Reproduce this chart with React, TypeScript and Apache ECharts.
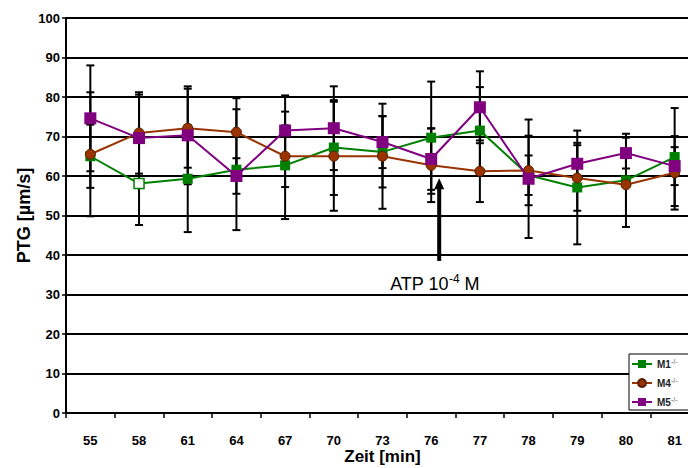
import React, { useEffect, useRef } from "react";
import * as echarts from "echarts";

const categories = ["55", "58", "61", "64", "67", "70", "73", "76", "77", "78", "79", "80", "81"];
const yTicks = [0, 10, 20, 30, 40, 50, 60, 70, 80, 90, 100];

const m1Values = [65.0, 58.1, 59.3, 61.6, 62.7, 67.2, 66.1, 69.7, 71.5, 60.2, 57.1, 58.9, 64.8];
const m1Errors = [8.0, 10.5, 13.5, 15.3, 13.6, 12.0, 9.0, 14.2, 11.0, 5.0, 14.4, 11.8, 12.4];

const m4Values = [65.5, 70.9, 72.1, 71.1, 65.0, 65.0, 65.0, 62.7, 61.2, 61.4, 59.5, 57.8, 60.8];
const m4Errors = [15.7, 10.3, 10.0, 8.6, 7.8, 13.8, 13.3, 9.3, 7.8, 8.8, 8.3, 7.9, 9.3];

const m5Values = [74.6, 69.6, 70.3, 60.0, 71.5, 72.1, 68.6, 64.3, 77.4, 59.3, 63.1, 65.8, 62.5];
const m5Errors = [13.4, 11.0, 12.4, 4.5, 8.9, 10.6, 6.6, 7.8, 9.1, 15.0, 5.3, 3.9, 4.8];

const seriesNames = ["M1", "M4", "M5"];
const annotationText = ["ATP 10", "-4", " M"];
const arrowCategory = "76";
const arrowTopValue = 59.4;
const arrowBottomValue = 38.5;

const GREEN = "#008000";
const BROWN = "#993300";
const PURPLE = "#800080";
const FONT = "'Liberation Sans', Arial, sans-serif";

function errorSeries(values: number[], errors: number[], z: number) {
  return {
    type: "custom",
    z,
    silent: true,
    encode: { x: 0, y: [1, 2] },
    data: values.map((v, i) => [i, v - errors[i], v + errors[i]]),
    renderItem: (params: any, api: any) => {
      const idx = api.value(0);
      const lo = api.coord([idx, api.value(1)]);
      const hi = api.coord([idx, api.value(2)]);
      const half = 4;
      const style = { stroke: "#000", lineWidth: 2 };
      return {
        type: "group",
        children: [
          { type: "line", shape: { x1: hi[0], y1: hi[1], x2: lo[0], y2: lo[1] }, style },
          { type: "line", shape: { x1: hi[0] - half, y1: hi[1], x2: hi[0] + half, y2: hi[1] }, style },
          { type: "line", shape: { x1: lo[0] - half, y1: lo[1], x2: lo[0] + half, y2: lo[1] }, style },
        ],
      };
    },
  };
}

export default function App() {
  const ref = useRef<HTMLDivElement>(null);
  useEffect(() => {
    if (!ref.current) return;
    const chart = echarts.init(ref.current, null, { renderer: "svg" });
    const m1Data = m1Values.map((v, i) =>
      i === 1
        ? { value: v, itemStyle: { color: "#fff", borderColor: GREEN, borderWidth: 1.5 } }
        : v
    );
    chart.setOption({
      animation: false,
      backgroundColor: "#fff",
      textStyle: { fontFamily: FONT },
      grid: {
        left: 66,
        top: 18,
        width: 633,
        height: 395,
        containLabel: false,
        outerBoundsMode: "none",
      },
      xAxis: {
        type: "category",
        data: categories,
        boundaryGap: true,
        name: "Zeit [min]",
        nameLocation: "middle",
        nameGap: 35,
        nameMoveOverlap: false,
        nameTextStyle: { fontSize: 17, fontWeight: "bold", color: "#000", fontFamily: FONT },
        axisLine: { lineStyle: { color: "#000", width: 2 } },
        axisTick: { show: true, inside: false, length: 5, lineStyle: { color: "#000", width: 1.5 } },
        axisLabel: { fontSize: 13, fontWeight: "bold", color: "#000", margin: 21, fontFamily: FONT },
        splitLine: { show: false },
      },
      yAxis: {
        type: "value",
        min: yTicks[0],
        max: yTicks[yTicks.length - 1],
        interval: 10,
        name: "PTG [µm/s]",
        nameLocation: "middle",
        nameGap: 33,
        nameMoveOverlap: false,
        nameRotate: 90,
        nameTextStyle: { fontSize: 18, fontWeight: "bold", color: "#000", fontFamily: FONT },
        axisLine: { show: true, lineStyle: { color: "#000", width: 2 } },
        axisTick: { show: true, inside: false, length: 4, lineStyle: { color: "#000", width: 1.5 } },
        axisLabel: { fontSize: 13, fontWeight: "bold", color: "#000", margin: 6, fontFamily: FONT },
        splitLine: { show: true, lineStyle: { color: "#000", width: 2 } },
      },
      legend: {
        data: seriesNames,
        orient: "vertical",
        left: 629,
        top: 354,
        itemWidth: 20,
        itemHeight: 10,
        itemGap: 8,
        padding: [4, 30, 3, 2],
        borderColor: "#000",
        borderWidth: 1,
        backgroundColor: "#fff",
        formatter: (name: string) => `{a|${name}}{b|-/-}`,
        textStyle: {
          fontFamily: FONT,
          rich: {
            a: { fontSize: 10, fontWeight: "bold", color: "#222", fontFamily: FONT, lineHeight: 12 },
            b: { fontSize: 7, color: "#555", fontFamily: FONT, verticalAlign: "top", lineHeight: 8 },
          },
        },
      },
      series: [
        errorSeries(m1Values, m1Errors, 1),
        errorSeries(m4Values, m4Errors, 1),
        errorSeries(m5Values, m5Errors, 1),
        {
          name: seriesNames[0],
          type: "line",
          z: 3,
          data: m1Data,
          symbol: "rect",
          symbolSize: 10,
          lineStyle: { color: GREEN, width: 2 },
          itemStyle: { color: GREEN },
        },
        {
          name: seriesNames[1],
          type: "line",
          z: 4,
          data: m4Values,
          symbol: "circle",
          symbolSize: 10,
          lineStyle: { color: BROWN, width: 2 },
          itemStyle: { color: BROWN, borderColor: "#5a1e00", borderWidth: 1 },
        },
        {
          name: seriesNames[2],
          type: "line",
          z: 5,
          data: m5Values,
          symbol: "rect",
          symbolSize: 12,
          lineStyle: { color: PURPLE, width: 2 },
          itemStyle: { color: PURPLE },
        },
      ],
    });

    const top = chart.convertToPixel({ xAxisIndex: 0, yAxisIndex: 0 }, [arrowCategory, arrowTopValue]) as number[];
    const bottom = chart.convertToPixel({ xAxisIndex: 0, yAxisIndex: 0 }, [arrowCategory, arrowBottomValue]) as number[];
    const ax = top[0] + 8;
    chart.setOption({
      graphic: [
        {
          type: "line",
          shape: { x1: ax, y1: top[1] + 9, x2: ax, y2: bottom[1] },
          style: { stroke: "#000", lineWidth: 4 },
          z: 10,
        },
        {
          type: "polygon",
          shape: { points: [[ax, top[1]], [ax - 5, top[1] + 11], [ax + 5, top[1] + 11]] },
          style: { fill: "#000" },
          z: 10,
        },
        {
          type: "text",
          x: ax - 49,
          y: bottom[1] + 12,
          style: {
            text: `{a|${annotationText[0]}}{b|${annotationText[1]}}{a|${annotationText[2]}}`,
            rich: {
              a: { fontSize: 18, fontFamily: FONT, fill: "#000", lineHeight: 22 },
              b: { fontSize: 12, fontFamily: FONT, fill: "#000", verticalAlign: "top", lineHeight: 12 },
            },
          },
          z: 10,
        },
      ],
    });
    return () => chart.dispose();
  }, []);
  return (
    <div
      ref={ref}
      style={{ position: "fixed", left: 0, top: 0, width: 688, height: 468, background: "#fff" }}
    />
  );
}
